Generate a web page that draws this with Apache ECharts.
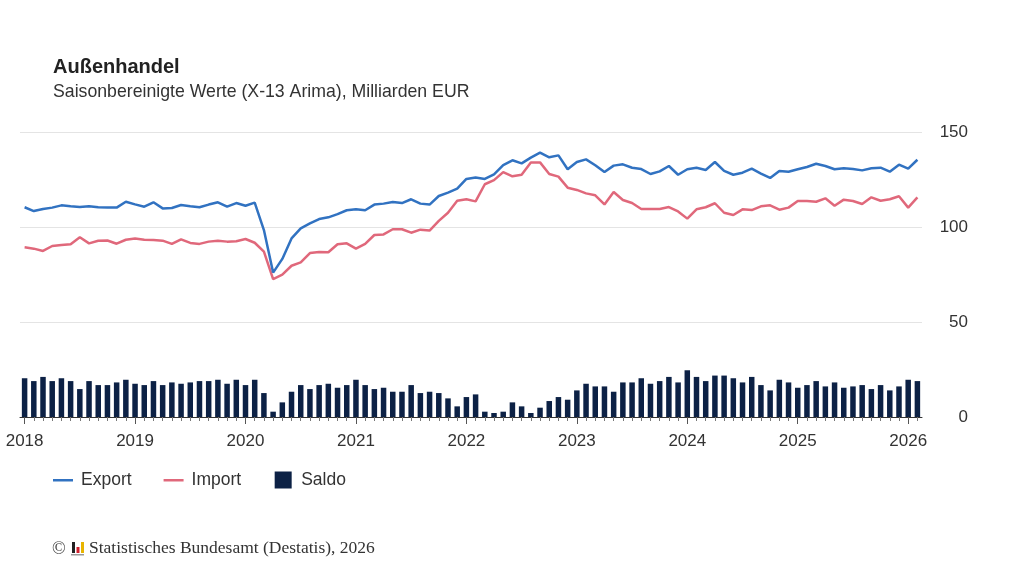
<!DOCTYPE html>
<html>
<head>
<meta charset="utf-8">
<script src="https://cdn.jsdelivr.net/npm/echarts@6/dist/echarts.min.js"></script>
<style>html,body{margin:0;padding:0;background:#fff;}#c{width:1024px;height:576px;}</style>
</head>
<body>
<div id="c"></div>
<script>
const months = [
'2018-01','2018-02','2018-03','2018-04','2018-05','2018-06','2018-07','2018-08','2018-09','2018-10','2018-11','2018-12',
'2019-01','2019-02','2019-03','2019-04','2019-05','2019-06','2019-07','2019-08','2019-09','2019-10','2019-11','2019-12',
'2020-01','2020-02','2020-03','2020-04','2020-05','2020-06','2020-07','2020-08','2020-09','2020-10','2020-11','2020-12',
'2021-01','2021-02','2021-03','2021-04','2021-05','2021-06','2021-07','2021-08','2021-09','2021-10','2021-11','2021-12',
'2022-01','2022-02','2022-03','2022-04','2022-05','2022-06','2022-07','2022-08','2022-09','2022-10','2022-11','2022-12',
'2023-01','2023-02','2023-03','2023-04','2023-05','2023-06','2023-07','2023-08','2023-09','2023-10','2023-11','2023-12',
'2024-01','2024-02','2024-03','2024-04','2024-05','2024-06','2024-07','2024-08','2024-09','2024-10','2024-11','2024-12',
'2025-01','2025-02','2025-03','2025-04','2025-05','2025-06','2025-07','2025-08','2025-09','2025-10','2025-11','2025-12',
'2026-01','2026-02'
];
const exportVals = [
110.4,108.4,109.5,110.2,111.4,110.9,110.5,110.9,110.4,110.2,110.2,113.3,
111.9,110.7,113.0,109.8,110.0,111.6,110.9,110.4,111.8,113.0,110.7,112.6,
111.2,112.8,98.4,76.0,83.2,94.0,99.3,101.9,104.2,105.1,106.8,108.8,
109.3,108.8,111.8,112.3,113.2,112.6,114.6,112.3,111.8,116.3,118.1,120.2,
125.3,126.0,125.3,127.7,132.6,135.1,133.5,136.5,139.1,136.7,137.7,130.4,
134.2,135.6,132.5,128.9,132.3,133.0,131.2,130.5,127.9,129.3,132.1,127.5,
130.4,131.2,130.0,134.2,129.5,127.5,128.6,130.7,128.1,125.8,129.5,129.1,
130.4,131.6,133.3,132.1,130.4,130.9,130.5,129.8,130.9,131.2,129.1,132.8,
130.7,135.4
];
const importVals = [
89.3,88.6,87.4,90.0,90.5,90.9,94.6,91.4,92.8,92.9,91.2,93.3,
94.0,93.3,93.2,92.8,91.1,93.5,91.6,91.1,92.3,92.8,92.3,92.5,
93.7,91.7,87.0,72.6,74.9,79.6,81.4,86.3,86.8,86.7,90.9,91.4,
88.6,91.1,95.8,96.1,98.8,98.8,97.0,98.6,98.1,103.2,107.5,113.8,
114.6,113.5,122.5,124.7,128.9,126.7,127.5,134.0,134.0,127.9,126.5,120.7,
119.5,117.7,116.7,111.9,118.4,114.2,112.6,109.5,109.5,109.5,110.5,108.2,
104.4,109.3,110.4,112.5,107.5,106.3,109.3,108.9,110.9,111.4,109.1,110.2,
113.7,113.7,113.3,115.1,111.2,114.4,113.7,112.1,115.6,113.8,114.6,116.2,
110.2,115.6
];
const saldoVals = [
20.4,18.9,21.1,18.9,20.4,18.9,14.7,18.9,16.8,16.8,18.2,19.6,
17.5,16.8,18.9,16.8,18.2,17.5,18.2,18.9,18.9,19.6,17.5,19.6,
16.8,19.6,12.6,2.8,7.7,13.3,16.8,14.7,16.8,17.5,15.4,16.8,
19.6,16.8,14.7,15.4,13.3,13.3,16.8,12.6,13.3,12.6,9.8,5.6,
10.5,11.9,2.8,2.1,2.8,7.7,5.6,2.1,4.9,8.4,10.5,9.1,
14.0,17.5,16.1,16.1,13.3,18.2,18.2,20.4,17.5,18.9,21.1,18.2,
24.6,21.1,18.9,21.8,21.8,20.4,18.2,21.1,16.8,14.0,19.6,18.2,
15.4,16.8,18.9,16.1,18.2,15.4,16.1,16.8,14.7,16.8,14.0,16.1,
19.6,18.9
];
const yTicks = [0, 50, 100, 150];

const C_EXP = '#3172c1', C_IMP = '#e0687b', C_SAL = '#0c2145';
const FONT = '"Liberation Sans", Arial, sans-serif';
const isJan = (i) => months[i].slice(5) === '01';

const chart = echarts.init(document.getElementById('c'));
chart.setOption({
  animation: false,
  backgroundColor: '#fff',
  textStyle: { fontFamily: FONT },
  title: [
    { text: 'Außenhandel', left: 48, top: 52, textStyle: { fontSize: 20, fontWeight: 'bold', color: '#222', fontFamily: FONT } },
    { text: 'Saisonbereinigte Werte (X-13 Arima), Milliarden EUR', left: 48, top: 78, textStyle: { fontSize: 17.7, fontWeight: 'normal', color: '#333', fontFamily: FONT } }
  ],
  legend: {
    left: 48, top: 466, itemWidth: 20, itemHeight: 17, itemGap: 32,
    textStyle: { fontSize: 17.5, color: '#333', fontFamily: FONT, padding: [0, 0, 0, 3] },
    data: [
      { name: 'Export', icon: 'path://M0,0 M0,7.5 L20,7.5 L20,10 L0,10 Z M20,17' },
      { name: 'Import', icon: 'path://M0,0 M0,7.5 L20,7.5 L20,10 L0,10 Z M20,17' },
      { name: 'Saldo', icon: 'path://M0,0 M1.5,0 L18.5,0 L18.5,17 L1.5,17 Z M20,17' }
    ]
  },
  grid: { left: 20, right: 102, top: 132, bottom: 159 },
  xAxis: [
    {
      type: 'category', data: months, boundaryGap: true,
      axisLine: { show: true, lineStyle: { color: '#333', width: 1 } },
      axisTick: { show: true, alignWithLabel: true, interval: 0, length: 4, lineStyle: { color: '#777' } },
      axisLabel: {
        interval: (i) => isJan(i),
        formatter: (v) => v.slice(0, 4),
        fontSize: 17, color: '#333', margin: 16, fontFamily: FONT
      }
    },
    {
      type: 'category', data: months, boundaryGap: true, position: 'bottom',
      axisLine: { show: false },
      axisTick: { show: true, alignWithLabel: true, interval: (i) => isJan(i), length: 7, lineStyle: { color: '#555' } },
      axisLabel: { show: false }
    }
  ],
  yAxis: {
    type: 'value', position: 'right', min: yTicks[0], max: yTicks[yTicks.length - 1], interval: 50,
    axisLine: { show: false }, axisTick: { show: false },
    splitLine: { lineStyle: { color: '#e4e4e4', width: 1 } },
    axisLabel: { fontSize: 17, color: '#333', align: 'right', margin: 46, fontFamily: FONT }
  },
  series: [
    { name: 'Saldo', type: 'bar', data: saldoVals, xAxisIndex: 0, barWidth: 5.5, itemStyle: { color: C_SAL }, z: 1 },
    { name: 'Export', type: 'line', data: exportVals, xAxisIndex: 0, showSymbol: false, symbol: 'none', lineStyle: { color: C_EXP, width: 2.5 }, itemStyle: { color: C_EXP }, z: 3 },
    { name: 'Import', type: 'line', data: importVals, xAxisIndex: 0, showSymbol: false, symbol: 'none', lineStyle: { color: C_IMP, width: 2.5 }, itemStyle: { color: C_IMP }, z: 2 }
  ],
  graphic: [
    { type: 'text', left: 52, top: 540, style: { text: '©', font: '18px "Liberation Serif", serif', fill: '#444' } },
    { type: 'rect', shape: { x: 72, y: 542, width: 3, height: 11 }, style: { fill: '#222' } },
    { type: 'rect', shape: { x: 76.5, y: 547, width: 3, height: 6 }, style: { fill: '#d0202e' } },
    { type: 'rect', shape: { x: 81, y: 542, width: 3, height: 11 }, style: { fill: '#e8b400' } },
    { type: 'rect', shape: { x: 71, y: 554, width: 13, height: 1.5 }, style: { fill: '#999' } },
    { type: 'text', left: 89, top: 539, style: { text: 'Statistisches Bundesamt (Destatis), 2026', font: '17.5px "Liberation Serif", "Times New Roman", serif', fill: '#333' } }
  ]
});
</script>
</body>
</html>
